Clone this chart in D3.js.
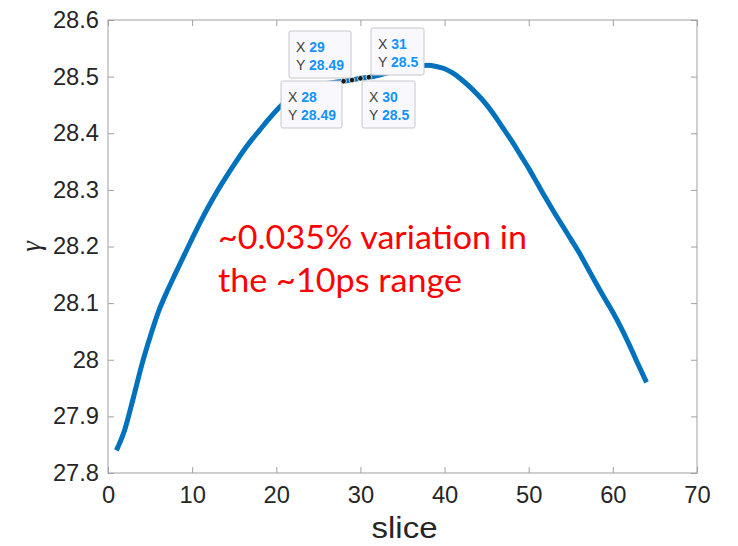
<!DOCTYPE html>
<html><head><meta charset="utf-8">
<script src="https://cdn.jsdelivr.net/npm/d3@7"></script>
<style>body{margin:0;background:#fff}svg{display:block}</style>
</head><body>
<script>
const slices = d3.range(1, 65);
const gamma = [27.84,27.877,27.932,27.99,28.04,28.085,28.12,28.152,28.183,28.214,
28.244,28.272,28.298,28.322,28.345,28.367,28.387,28.405,28.423,28.44,
28.455,28.466,28.474,28.48,28.485,28.488,28.49,28.492,28.494,28.497,
28.499,28.502,28.506,28.51,28.514,28.517,28.519,28.52,28.518,28.514,
28.506,28.495,28.482,28.467,28.45,28.43,28.408,28.386,28.362,28.338,
28.312,28.286,28.261,28.237,28.213,28.189,28.162,28.135,28.109,28.084,
28.056,28.025,27.992,27.96];
const xTicks = [0,10,20,30,40,50,60,70];
const yTicks = [27.8,27.9,28,28.1,28.2,28.3,28.4,28.5,28.6];
const tipX = [28,29,30,31];
const tipYLabel = ["28.49","28.49","28.5","28.5"];
const annotation = ["~0.035% variation in","the ~10ps range"];

const W=738,H=546;
const L=108,R=697,T=20,B=473;
const svg=d3.select("body").append("svg").attr("width",W).attr("height",H);
const x=d3.scaleLinear().domain([0,70]).range([L,R]);
const y=d3.scaleLinear().domain([27.8,28.6]).range([B,T]);
const axisColor="#262626", boxColor="#a0a0a0";
const fontAx="'Liberation Sans', Arial, sans-serif";
const stretch=(sel,f)=>sel.each(function(){const w=this.getComputedTextLength();
  d3.select(this).attr("textLength",w*f).attr("lengthAdjust","spacingAndGlyphs");});

// box
svg.append("rect").attr("x",L).attr("y",T).attr("width",R-L).attr("height",B-T)
  .attr("fill","none").attr("stroke",boxColor).attr("stroke-width",1);

// x axis
const gx=svg.append("g").attr("transform",`translate(0,${B})`)
  .call(d3.axisBottom(x).tickValues(xTicks).tickSize(-6).tickPadding(14).tickFormat(d3.format("d")));
gx.select(".domain").remove();
gx.selectAll(".tick line").attr("stroke",boxColor);
gx.selectAll("text").attr("fill",axisColor).style("font-family",fontAx).style("font-size","23px");
stretch(gx.selectAll("text"),1.03);
const gxt=svg.append("g").attr("transform",`translate(0,${T})`)
  .call(d3.axisTop(x).tickValues(xTicks).tickSize(-6).tickFormat(""));
gxt.select(".domain").remove();
gxt.selectAll(".tick line").attr("stroke",boxColor);

// y axis
const gy=svg.append("g").attr("transform",`translate(${L},0)`)
  .call(d3.axisLeft(y).tickValues(yTicks).tickSize(-6).tickPadding(9).tickFormat(d=>d3.format("")(+d.toFixed(1))));
gy.select(".domain").remove();
gy.selectAll(".tick line").attr("stroke",boxColor);
gy.selectAll("text").attr("fill",axisColor).style("font-family",fontAx).style("font-size","23px");
stretch(gy.selectAll("text"),1.03);
const gyr=svg.append("g").attr("transform",`translate(${R},0)`)
  .call(d3.axisRight(y).tickValues(yTicks).tickSize(-6).tickFormat(""));
gyr.select(".domain").remove();
gyr.selectAll(".tick line").attr("stroke",boxColor);

// labels
const xl=svg.append("text").attr("x",(L+R)/2+2).attr("y",538).attr("text-anchor","middle")
  .attr("fill",axisColor).style("font-family",fontAx).style("font-size","30px").text("slice");
stretch(xl,1.1);
svg.append("text").attr("transform",`translate(40,${(T+B)/2}) rotate(-90)`).attr("text-anchor","middle")
  .attr("fill",axisColor).style("font-family","'Liberation Serif', serif").style("font-style","italic")
  .style("font-size","27px").text("γ");

// line
const pts=slices.map((s,i)=>[s,gamma[i]]);
svg.append("path").datum(pts).attr("fill","none").attr("stroke","#0072bd")
  .attr("stroke-width",5).attr("stroke-linejoin","round")
  .attr("d",d3.line().curve(d3.curveMonotoneX).x(d=>x(d[0])).y(d=>y(d[1])));

// annotation
const annW=[309,244];
svg.append("g").selectAll("text").data(annotation).join("text")
  .attr("x",218).attr("y",(d,i)=>249+i*43)
  .attr("fill","#ff0000").style("font-family","Lato, 'Open Sans', sans-serif")
  .style("font-size","32px").attr("textLength",(d,i)=>annW[i]).attr("lengthAdjust","spacingAndGlyphs")
  .text(d=>d);

// datatips
const tipBoxes=[[281,81,61],[289,31,62],[362,81,53],[371,28,53]];
tipX.forEach((sx,i)=>{
  const [bx,by,bw]=tipBoxes[i];
  const g=svg.append("g");
  g.append("rect").attr("x",bx).attr("y",by).attr("width",bw).attr("height",47)
    .attr("rx",2).attr("fill","#f9f9fd").attr("stroke","#c8c8cc").attr("stroke-width",1);
  const t1=g.append("text").attr("x",bx+7).attr("y",by+21).style("font-family",fontAx).style("font-size","14px");
  t1.append("tspan").attr("fill","#404040").text("X ");
  t1.append("tspan").attr("fill","#1493ff").style("font-weight","bold").text(sx);
  const t2=g.append("text").attr("x",bx+7).attr("y",by+39).style("font-family",fontAx).style("font-size","14px");
  t2.append("tspan").attr("fill","#404040").text("Y ");
  t2.append("tspan").attr("fill","#1493ff").style("font-weight","bold").text(tipYLabel[i]);
});
tipX.forEach((sx,i)=>{
  svg.append("circle").attr("cx",x(sx)).attr("cy",y(gamma[sx-1])).attr("r",2.8)
    .attr("fill","#1a1a1a").attr("stroke","#fff").attr("stroke-width",0.8);
});
</script>
</body></html>
